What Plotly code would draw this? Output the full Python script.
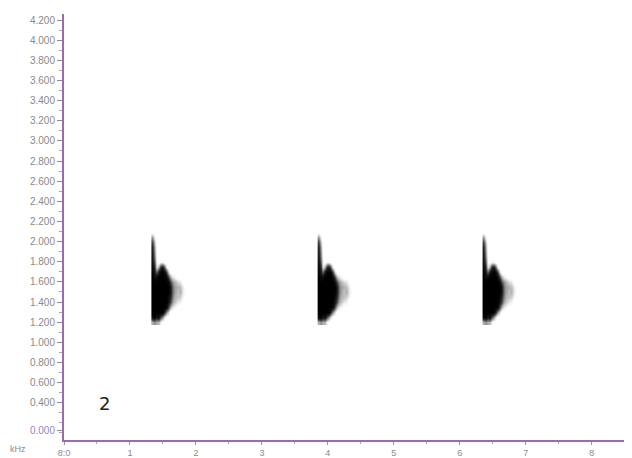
import plotly.graph_objects as go

# --- data ---
call_onsets = [1.34, 3.86, 6.36]          # seconds (start of each call)
col_offsets = [0.00, 0.03, 0.06, 0.09, 0.12, 0.15, 0.18, 0.21, 0.24, 0.27,
               0.30, 0.34, 0.38, 0.42, 0.46, 0.50]
freq_rows = [2.10, 2.05, 2.00, 1.95, 1.90, 1.85, 1.80, 1.75, 1.70, 1.65,
             1.60, 1.55, 1.50, 1.45, 1.40, 1.35, 1.30, 1.25, 1.20]
# intensity template (top row = highest frequency)
call_template = [
    [0,   0,   0,   0,   0,   0,   0,   0,   0,   0,   0,   0,   0,   0,   0,   0],
    [0.35,0.1, 0,   0,   0,   0,   0,   0,   0,   0,   0,   0,   0,   0,   0,   0],
    [0.6, 0.25,0,   0,   0,   0,   0,   0,   0,   0,   0,   0,   0,   0,   0,   0],
    [0.7, 0.35,0,   0,   0,   0,   0,   0,   0,   0,   0,   0,   0,   0,   0,   0],
    [0.75,0.4, 0,   0,   0,   0,   0,   0,   0,   0,   0,   0,   0,   0,   0,   0],
    [0.8, 0.45,0.05,0,   0,   0,   0,   0,   0,   0,   0,   0,   0,   0,   0,   0],
    [0.85,0.55,0.1, 0,   0.1, 0.1, 0,   0,   0,   0,   0,   0,   0,   0,   0,   0],
    [0.9, 0.7, 0.15,0.3, 0.7, 0.8, 0.5, 0.1, 0,   0,   0,   0,   0,   0,   0,   0],
    [0.95,0.8, 0.5, 0.8, 0.95,1,   0.9, 0.6, 0.2, 0,   0,   0,   0,   0,   0,   0],
    [1,   0.9, 0.9, 1,   1,   1,   1,   0.9, 0.6, 0.3, 0.15,0.1, 0,   0,   0,   0],
    [1,   1,   1,   1,   1,   1,   1,   1,   0.9, 0.6, 0.4, 0.3, 0.2, 0.15,0,   0],
    [1,   1,   1,   1,   1,   1,   1,   1,   1,   0.8, 0.5, 0.35,0.3, 0.25,0.15,0],
    [1,   1,   1,   1,   1,   1,   1,   1,   1,   0.8, 0.5, 0.35,0.25,0.3, 0.15,0.05],
    [1,   1,   1,   1,   1,   1,   1,   1,   0.9, 0.7, 0.45,0.3, 0.25,0.2, 0.1, 0],
    [1,   1,   1,   1,   1,   1,   1,   1,   0.8, 0.6, 0.35,0.25,0.15,0.1, 0,   0],
    [1,   1,   1,   1,   1,   1,   1,   0.9, 0.6, 0.3, 0.15,0.1, 0,   0,   0,   0],
    [1,   1,   1,   1,   1,   1,   0.7, 0.4, 0.2, 0,   0,   0,   0,   0,   0,   0],
    [0.9, 1,   0.8, 0.9, 0.6, 0.4, 0.15,0,   0,   0,   0,   0,   0,   0,   0,   0],
    [0.3, 0.4, 0.3, 0.3, 0.1, 0,   0,   0,   0,   0,   0,   0,   0,   0,   0,   0],
]
y_tick_vals = [0.12, 0.4, 0.6, 0.8, 1.0, 1.2, 1.4, 1.6, 1.8, 2.0, 2.2, 2.4,
               2.6, 2.8, 3.0, 3.2, 3.4, 3.6, 3.8, 4.0, 4.2]
y_tick_text = ["<span style='color:#8a88d0'>0.000</span>", "0.400", "0.600", "0.800",
               "1.000", "1.200", "1.400", "1.600", "1.800", "2.000", "2.200",
               "2.400", "2.600", "2.800", "3.000", "3.200", "3.400", "3.600",
               "3.800", "4.000", "4.200"]
x_tick_vals = [0, 1, 2, 3, 4, 5, 6, 7, 8]
x_tick_text = ["8:<span style='color:#8a88d0'>0</span>", "1", "2", "3", "4",
               "5", "6", "7", "8"]

AXIS = "#9a6cae"
GRAY = "#8a8a8a"

fig = go.Figure()
for onset in call_onsets:
    fig.add_trace(go.Heatmap(
        x=[onset + o for o in col_offsets],
        y=freq_rows,
        z=call_template,
        zmin=0, zmax=1,
        zsmooth="best",
        colorscale=[[0, "rgba(255,255,255,0)"], [0.15, "#e6e6e6"],
                    [0.4, "#8c8c8c"], [0.7, "#262626"], [1, "#000000"]],
        showscale=False,
        hoverinfo="skip",
    ))

# page body has an 8px margin, so the figure is sized/offset to compensate
fig.update_layout(
    width=624, height=450,
    margin=dict(l=56, r=2, t=6, b=18, autoexpand=False),
    paper_bgcolor="white", plot_bgcolor="white",
    font=dict(family="Liberation Sans, Arial, sans-serif", color=GRAY),
    showlegend=False,
    annotations=[
        dict(text="2", xref="paper", yref="paper", x=0.059, y=0.057,
             showarrow=False, font=dict(size=18, color="#222",
                                        family="DejaVu Sans")),
        dict(text="kHz", xref="paper", yref="paper", x=-0.099, y=-0.038,
             showarrow=False, font=dict(size=9, color=GRAY)),
    ],
)
fig.update_xaxes(
    range=[0, 8.58], showgrid=False, zeroline=False,
    showline=True, linecolor=AXIS, linewidth=2,
    ticks="outside", ticklen=3, tickcolor="#999", tickwidth=1,
    tickvals=x_tick_vals, ticktext=x_tick_text,
    tickfont=dict(size=9, color=GRAY),
    minor=dict(ticks="outside", ticklen=2, tickcolor="#aaa", dtick=0.5),
)
fig.update_yaxes(
    range=[0.03, 4.26], showgrid=False, zeroline=False,
    showline=True, linecolor=AXIS, linewidth=2,
    ticks="outside", ticklen=5, tickcolor="#888", tickwidth=1,
    tickvals=y_tick_vals, ticktext=y_tick_text,
    tickfont=dict(size=10, color=GRAY),
    minor=dict(ticks="outside", ticklen=3, tickcolor="#aaa", dtick=0.1, tick0=0),
)

fig.write_html("out.html")
